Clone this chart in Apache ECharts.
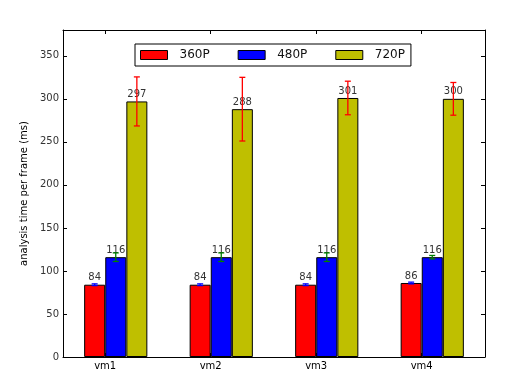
<!DOCTYPE html>
<html>
<head>
<meta charset="utf-8">
<script src="https://cdn.jsdelivr.net/npm/echarts@6/dist/echarts.min.js"></script>
<style>
    html, body { margin: 0; padding: 0; background: #fff; }
    #chart { width: 527px; height: 378px; }
</style>
</head>
<body>
<div id="chart"></div>
<script>
    // data
    var categories = ['vm1', 'vm2', 'vm3', 'vm4'];
    var tickPos = [0.4, 1.4, 2.4, 3.4];
    var p360 = [84, 84, 84, 86];
    var p360Err = [1, 1, 1, 1];
    var p480 = [116, 116, 116, 116];
    var p480Err = [5, 5, 5, 2];
    var p720 = [297, 288, 301, 300];
    var p720Err = [28.5, 37, 19.5, 19];
    var yTicks = [0, 50, 100, 150, 200, 250, 300, 350];

    var barOffsets = [-0.1, 0.1, 0.3];
    var font = 'DejaVu Sans';

    function barData(vals, k) {
        return vals.map(function (v, i) { return [tickPos[i] + barOffsets[k], v]; });
    }
    function errData(vals, errs, k) {
        return vals.map(function (v, i) { return [tickPos[i] + barOffsets[k], v - errs[i], v + errs[i]]; });
    }
    function barSeries(name, vals, color) {
        var k = ['360P', '480P', '720P'].indexOf(name);
        return {
            name: name,
            type: 'bar',
            barWidth: 21,
            barGap: '-100%',
            data: barData(vals, k),
            itemStyle: { color: color, borderColor: '#000', borderWidth: 1 },
            label: {
                show: true, position: 'top', distance: 2,
                color: '#333', fontSize: 10, fontFamily: font
            },
            z: 2
        };
    }
    function errSeries(vals, errs, k, color) {
        return {
            type: 'custom',
            data: errData(vals, errs, k),
            renderItem: function (params, api) {
                var x = api.value(0);
                var lo = api.coord([x, api.value(1)]);
                var hi = api.coord([x, api.value(2)]);
                var c = 3;
                var st = { stroke: color, lineWidth: 1.3 };
                return {
                    type: 'group',
                    children: [
                        { type: 'line', shape: { x1: lo[0], y1: lo[1], x2: hi[0], y2: hi[1] }, style: st },
                        { type: 'line', shape: { x1: lo[0] - c, y1: lo[1], x2: lo[0] + c, y2: lo[1] }, style: st },
                        { type: 'line', shape: { x1: hi[0] - c, y1: hi[1], x2: hi[0] + c, y2: hi[1] }, style: st }
                    ]
                };
            },
            silent: true,
            z: 5
        };
    }

    var chart = echarts.init(document.getElementById('chart'));
    var axisLine = { show: true, onZero: false, lineStyle: { color: '#000', width: 1 } };
    chart.setOption({
        animation: false,
        textStyle: { fontFamily: font },
        legend: {
            top: 44,
            left: 135,
            data: ['360P', '480P', '720P'],
            icon: 'rect',
            itemWidth: 27,
            itemHeight: 9,
            itemGap: 28,
            borderColor: '#000',
            borderWidth: 1,
            padding: [5, 6, 5, 5],
            textStyle: { fontSize: 12, color: '#111', fontFamily: font, padding: [0, 0, 0, 7] },
            itemStyle: { borderColor: '#000', borderWidth: 1 }
        },
        grid: { left: 63, right: 42, top: 30, bottom: 21 },
        xAxis: [{
            type: 'value', position: 'bottom', min: 0, max: 4,
            axisLine: axisLine,
            splitLine: { show: false },
            axisTick: { show: true, inside: true, length: 4, customValues: tickPos, lineStyle: { color: '#000' } },
            axisLabel: {
                customValues: tickPos, margin: 4, fontSize: 10, color: '#000',
                formatter: function (v) { return categories[Math.round(v - 0.4)]; }
            }
        }, {
            type: 'value', position: 'top', min: 0, max: 4,
            axisLine: axisLine,
            splitLine: { show: false },
            axisTick: { show: true, inside: true, length: 4, customValues: tickPos, lineStyle: { color: '#000' } },
            axisLabel: { show: false }
        }],
        yAxis: [{
            type: 'value', position: 'left', min: 0, max: 380, interval: 50,
            name: 'analysis time per frame (ms)',
            nameLocation: 'middle', nameGap: 29, nameRotate: 90,
            nameTextStyle: { fontSize: 10, color: '#000' },
            axisLine: axisLine,
            splitLine: { show: false },
            axisTick: { show: true, inside: true, length: 4, lineStyle: { color: '#000' } },
            axisLabel: {
                fontSize: 10, color: '#333', margin: 4,
                formatter: function (v) { return yTicks.indexOf(v) >= 0 ? v : ''; }
            }
        }, {
            type: 'value', position: 'right', min: 0, max: 380, interval: 50,
            axisLine: axisLine,
            splitLine: { show: false },
            axisTick: { show: true, inside: true, length: 4, lineStyle: { color: '#000' } },
            axisLabel: { show: false }
        }],
        series: [
            barSeries('360P', p360, '#ff0000'),
            barSeries('480P', p480, '#0000ff'),
            barSeries('720P', p720, '#bfbf00'),
            errSeries(p360, p360Err, 0, '#0000ff'),
            errSeries(p480, p480Err, 1, '#008000'),
            errSeries(p720, p720Err, 2, '#ff0000')
        ]
    });
</script>
</body>
</html>
